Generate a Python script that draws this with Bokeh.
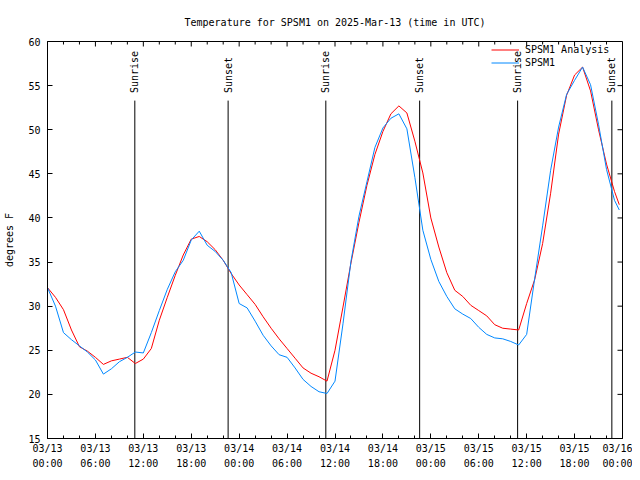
import math
import pandas as pd
from bokeh.plotting import figure
from bokeh.models import (Range1d, FixedTicker, DatetimeTickFormatter,
                          Legend, LegendItem, ColumnDataSource)
from bokeh.core.properties import value
from bokeh.embed import file_html
from bokeh.resources import INLINE

# ---------------- data ----------------
title_text = "Temperature for SPSM1 on 2025-Mar-13 (time in UTC)"
start = "2025-03-13 00:00"
end = "2025-03-16 00:00"
times = list(pd.date_range(start, periods=72, freq="h")) + [pd.Timestamp("2025-03-15 23:36")]

analysis = [32.1, 31.0, 29.6, 27.3, 25.4, 24.9, 24.2, 23.4, 23.8, 24.0, 24.2, 23.5,
            24.0, 25.2, 28.4, 31.0, 33.5, 35.8, 37.6, 37.9, 37.3, 36.4, 35.2, 33.7,
            32.4, 31.3, 30.2, 28.8, 27.5, 26.3, 25.2, 24.1, 23.0, 22.4, 22.0, 21.5,
            25.0, 29.9, 34.9, 39.5, 43.7, 47.2, 49.8, 51.8, 52.7, 51.9, 48.7, 45.1,
            40.0, 36.7, 33.8, 31.8, 31.1, 30.1, 29.5, 28.9, 27.9, 27.5, 27.4, 27.3,
            30.3, 33.0, 37.1, 42.8, 49.5, 53.9, 56.2, 57.1, 54.4, 50.0, 46.1, 43.0,
            41.5]

observed = [32.1, 30.0, 27.0, 26.2, 25.5, 24.8, 23.9, 22.3, 22.9, 23.7, 24.2, 24.8,
            24.7, 27.0, 29.5, 31.9, 33.9, 35.2, 37.5, 38.5, 36.9, 36.2, 35.2, 33.8,
            30.3, 29.8, 28.3, 26.7, 25.5, 24.5, 24.2, 23.0, 21.7, 20.9, 20.3, 20.1,
            21.5, 28.0, 35.1, 40.2, 44.1, 48.0, 50.2, 51.3, 51.8, 50.1, 44.6, 38.6,
            35.3, 32.8, 31.1, 29.7, 29.1, 28.6, 27.6, 26.8, 26.4, 26.3, 26.0, 25.6,
            26.8, 33.1, 39.1, 45.4, 50.3, 54.0, 55.6, 57.1, 55.1, 50.6, 45.5, 42.0,
            40.9]

sun_times = ["2025-03-13 10:56", "2025-03-13 22:37", "2025-03-14 10:51",
             "2025-03-14 22:36", "2025-03-15 10:52", "2025-03-15 22:40"]
sun_labels = ["Sunrise", "Sunset", "Sunrise", "Sunset", "Sunrise", "Sunset"]
sun_line_top = 53.3
sun_text_y = 54.15

y_min, y_max = 15, 60
y_ticks = [15, 20, 25, 30, 35, 40, 45, 50, 55, 60]
major_hours = list(range(0, 73, 6))
minor_hours = [h for h in range(0, 73, 2) if h % 6 != 0]
series_names = ["SPSM1 Analysis", "SPSM1"]
series_colors = ["#ff0000", "#0088ff"]
y_label = "degrees F"

FONT = "DejaVu Sans Mono"

t0 = pd.Timestamp(start)
t_end = pd.Timestamp(end)
major_t = [t0 + pd.Timedelta(hours=h) for h in major_hours]
minor_t = [t0 + pd.Timedelta(hours=h) for h in minor_hours]
def ms(t):
    return pd.Timestamp(t).value / 1e6

p = figure(x_axis_type="datetime", width=632, height=472,
           min_border_left=47, min_border_right=10, min_border_top=40, min_border_bottom=32,
           x_range=Range1d(t0, t_end), y_range=Range1d(y_min, y_max),
           output_backend="svg", toolbar_location=None, title=title_text)

p.title.text_font = FONT
p.title.text_font_size = "10px"
p.title.text_font_style = "normal"
p.title.text_color = "black"
p.title.align = "center"
p.title.standoff = 28

p.grid.visible = False
p.outline_line_color = "black"
p.background_fill_color = "white"
p.border_fill_color = "white"

f = "%m/%d\n%H:%M"
fmt = DatetimeTickFormatter(context=None, microseconds=f, milliseconds=f, seconds=f,
                            minsec=f, minutes=f, hourmin=f, hours=f, days=f,
                            months=f, years=f)

def style_axis(ax):
    ax.axis_line_color = "black"
    ax.major_tick_line_color = "black"
    ax.minor_tick_line_color = "black"
    ax.major_tick_in = 5
    ax.major_tick_out = 0
    ax.minor_tick_in = 3
    ax.minor_tick_out = 0
    ax.major_label_text_font = FONT
    ax.major_label_text_font_size = "10px"
    ax.major_label_text_color = "black"
    ax.major_label_standoff = 7

xax = p.xaxis[0]
xax.ticker = FixedTicker(ticks=[ms(t) for t in major_t], minor_ticks=[ms(t) for t in minor_t])
xax.formatter = fmt
style_axis(xax)
xax.major_label_standoff = 4
xax.major_label_text_line_height = 1.45

yax = p.yaxis[0]
yax.ticker = FixedTicker(ticks=y_ticks, minor_ticks=[])
style_axis(yax)
yax.axis_label = y_label
yax.axis_label_text_font = FONT
yax.axis_label_text_font_size = "10px"
yax.axis_label_text_font_style = "normal"
yax.axis_label_text_color = "black"
yax.axis_label_standoff = 10

# mirrored ticks on the top and right edges
p.ray(x=major_t, y=[y_max] * len(major_t), length=5, angle=-math.pi / 2,
      length_units="screen", line_color="black", line_width=1)
p.ray(x=minor_t, y=[y_max] * len(minor_t), length=3, angle=-math.pi / 2,
      length_units="screen", line_color="black", line_width=1)
p.ray(x=[t_end] * len(y_ticks), y=y_ticks, length=5, angle=math.pi,
      length_units="screen", line_color="black", line_width=1)

# sunrise / sunset markers
sun_src = ColumnDataSource(dict(x=[pd.Timestamp(t) for t in sun_times],
                                y0=[y_min] * len(sun_times),
                                y1=[sun_line_top] * len(sun_times),
                                ty=[sun_text_y] * len(sun_times),
                                label=sun_labels))
p.segment(x0="x", y0="y0", x1="x", y1="y1", source=sun_src, line_color="black", line_width=1)
p.text(x="x", y="ty", text="label", source=sun_src, angle=math.pi / 2,
       text_align="left", text_baseline="middle", text_font=value(FONT),
       text_font_size="10px", text_color="black")

src = ColumnDataSource(dict(t=times, a=analysis, o=observed))
r_a = p.line("t", "a", source=src, line_color=series_colors[0], line_width=1)
r_o = p.line("t", "o", source=src, line_color=series_colors[1], line_width=1)

legend = Legend(items=[LegendItem(label=series_names[0], renderers=[r_a]),
                       LegendItem(label=series_names[1], renderers=[r_o])],
                location=(444, 369), orientation="vertical")
legend.background_fill_alpha = 0
legend.border_line_alpha = 0
legend.padding = 0
legend.margin = 0
legend.spacing = 0
legend.label_height = 13
legend.glyph_height = 13
legend.glyph_width = 28
legend.label_standoff = 6
legend.label_text_font = FONT
legend.label_text_font_size = "10px"
legend.label_text_color = "black"
legend.label_text_line_height = 1.0
p.add_layout(legend, "center")

open("out.html", "w").write(file_html(p, INLINE))
